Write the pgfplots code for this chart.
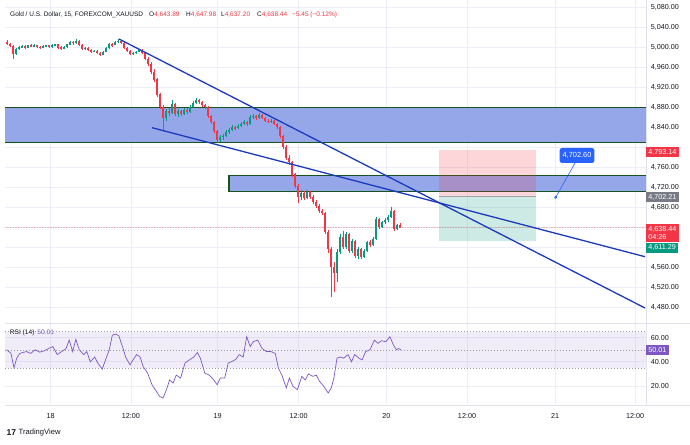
\documentclass[border=0pt]{standalone}
\usepackage{pgfplots}
\pgfplotsset{compat=1.18}
\usepackage{pgfplotstable}
\usepackage{fontspec}
\setmainfont{Liberation Sans}

\definecolor{tvred}{RGB}{242,54,69}
\definecolor{tvgreen}{RGB}{8,153,129}
\definecolor{zonefill}{RGB}{149,167,232}
\definecolor{zoneedge}{RGB}{22,84,28}
\definecolor{trend}{RGB}{28,58,190}
\definecolor{rsipurple}{RGB}{126,87,194}
\definecolor{tvgray}{RGB}{120,123,134}
\definecolor{tvblue}{RGB}{41,98,255}
\definecolor{gridc}{RGB}{236,239,247}
\definecolor{textc}{RGB}{19,23,34}
\definecolor{sepc}{RGB}{224,227,235}

\pgfplotstableread{
x o h l c
16 4986 4998 4984 4996
19 4996 5002 4994 5000
22 5000 5004 4997 5002
28 4999 5005 4998 5003
34 5001 5006 5000 5004
43 4998 5004 4997 5002
46 5002 5005 5000 5003
52 5000 5006 4999 5004
55 5004 5007 5002 5005
64 4996 5002 4995 5000
67 5000 5007 4999 5005
70 5005 5012 5004 5010
76 5008 5016 5007 5012
85 4996 5000 4994 4998
94 4990 4994 4989 4992
103 4984 4992 4983 4990
106 4990 5000 4989 4998
109 4998 5008 4997 5006
115 5004 5012 5003 5010
118 5010 5016 5008 5012
133 4986 4990 4984 4988
136 4988 4992 4986 4990
139 4990 4996 4989 4994
166 4858 4876 4852 4872
172 4868 4894 4866 4886
178 4866 4876 4860 4872
184 4866 4878 4864 4874
190 4870 4884 4868 4880
193 4880 4892 4878 4888
196 4888 4898 4886 4894
220 4814 4824 4810 4820
223 4820 4826 4814 4822
226 4822 4834 4820 4830
229 4830 4838 4826 4834
232 4834 4844 4832 4840
238 4838 4846 4836 4842
241 4842 4850 4840 4846
244 4846 4854 4844 4850
250 4846 4864 4845 4860
253 4860 4866 4856 4862
259 4858 4868 4856 4864
271 4850 4856 4848 4852
301 4700 4714 4694 4708
307 4698 4714 4696 4710
337 4548 4596 4530 4590
340 4590 4626 4586 4620
346 4600 4630 4596 4626
352 4592 4616 4588 4612
358 4582 4600 4576 4596
364 4580 4596 4578 4592
367 4592 4612 4590 4610
373 4604 4620 4602 4616
376 4616 4660 4614 4656
382 4640 4652 4638 4650
385 4650 4658 4646 4654
388 4654 4664 4650 4660
391 4660 4680 4658 4672
397 4636 4646 4634 4643.89
}\upcandles

\pgfplotstableread{
x o h l c
7 5010 5014 5004 5006
10 5006 5009 5000 5002
13 5002 5004 4976 4986
25 5002 5004 4996 4999
31 5003 5005 4999 5001
37 5004 5005 4998 5000
40 5000 5002 4996 4998
49 5003 5004 4998 5000
58 5005 5006 4997 4999
61 4999 5001 4994 4996
73 5010 5012 5005 5008
79 5012 5013 5002 5004
82 5004 5005 4994 4996
88 4998 4999 4992 4994
91 4994 4996 4988 4990
97 4992 4993 4986 4988
100 4988 4990 4982 4984
112 5006 5008 5001 5004
121 5012 5014 5006 5008
124 5008 5010 4996 4998
127 4998 5000 4990 4992
130 4992 4994 4984 4986
142 4994 4996 4986 4988
145 4988 4990 4974 4976
148 4976 4980 4962 4966
151 4966 4970 4946 4950
154 4950 4956 4930 4935
157 4935 4938 4900 4905
160 4905 4908 4875 4880
163 4880 4884 4834 4858
169 4872 4878 4862 4868
175 4886 4888 4862 4866
181 4872 4874 4862 4866
187 4874 4878 4866 4870
199 4894 4896 4886 4890
202 4890 4892 4880 4884
205 4884 4886 4876 4880
208 4880 4882 4858 4862
211 4862 4864 4846 4850
214 4850 4852 4828 4832
217 4832 4834 4808 4814
235 4840 4842 4834 4838
247 4850 4852 4842 4846
256 4862 4864 4854 4858
262 4864 4866 4856 4858
265 4858 4860 4850 4852
268 4852 4856 4848 4850
274 4852 4854 4844 4846
277 4846 4848 4836 4840
280 4840 4842 4818 4822
283 4822 4824 4796 4800
286 4800 4804 4774 4778
289 4778 4784 4764 4770
292 4770 4772 4740 4745
295 4745 4748 4718 4722
298 4722 4726 4688 4700
304 4708 4712 4694 4698
310 4710 4712 4696 4700
313 4700 4704 4686 4690
316 4690 4694 4678 4682
319 4682 4686 4668 4672
322 4672 4676 4664 4668
325 4668 4670 4626 4630
328 4630 4634 4588 4596
331 4596 4600 4500 4560
334 4560 4570 4510 4548
343 4620 4632 4596 4600
349 4626 4628 4588 4592
355 4612 4614 4578 4582
361 4596 4598 4576 4580
370 4610 4614 4600 4604
379 4656 4658 4636 4640
394 4672 4674 4632 4636
400 4643.89 4647.98 4637.20 4638.44
}\downcandles

\newcommand{\candleset}[2]{%
  \addplot[draw=none, no markers, forget plot, error bars/.cd, y dir=both, y explicit, error mark=none,
    error bar style={draw=#2, solid, line width=0.6pt}]
    table[x=x, y expr={(\thisrow{h}+\thisrow{l})/2}, y error expr={(\thisrow{h}-\thisrow{l})/2}] {#1};
  \addplot[draw=none, no markers, forget plot, error bars/.cd, y dir=both, y explicit, error mark=none,
    error bar style={draw=#2, solid, line width=1.8pt}]
    table[x=x, y expr={(\thisrow{o}+\thisrow{c})/2}, y error expr={abs(\thisrow{c}-\thisrow{o})/2+0.6}] {#1};
}

\pgfplotsset{tvaxis/.style={scale only axis, xmin=5, xmax=646,
  axis line style={draw=none}, major tick length=0pt, tick style={draw=none},
  xtick={50.7,130.9,217.7,298.7,386.4,467,555,635},
  grid=major, major grid style={draw=gridc, line width=0.8pt},
  tick label style={font=\fontsize{7.2}{8}\selectfont, text=textc},
  yticklabel pos=right,
  yticklabel style={anchor=west, xshift=4.7pt, inner sep=0pt,
    /pgf/number format/.cd, fixed, fixed zerofill, precision=2, 1000 sep={,}, assume math mode=true}}}

\begin{document}
\begin{tikzpicture}[x=1pt,y=1pt]
\path[use as bounding box, fill=white] (0,0) rectangle (690,444);

% ---------- main price pane ----------
\begin{axis}[tvaxis, at={(5pt,121pt)}, anchor=south west, width=641pt, height=323pt,
  ymin=4448, ymax=5094, ytick={4480,4520,4560,4680,4720,4760,4840,4880,4920,4960,5000,5040,5080},
  extra y ticks={4600,4640,4800}, extra y tick labels={},
  extra y tick style={grid=major},
  xticklabels={}]
  % zones
  \addplot[fill=zonefill, draw=zoneedge, line width=1.2pt, forget plot]
    coordinates {(-10,4809.4) (700,4809.4) (700,4879.4) (-10,4879.4)} -- cycle;
  \addplot[fill=zonefill, draw=zoneedge, line width=1.2pt, forget plot]
    coordinates {(229,4711.4) (700,4711.4) (700,4743.4) (229,4743.4)} -- cycle;
  % position box
  \addplot[fill=tvred, fill opacity=0.2, draw=none, forget plot]
    coordinates {(439,4702.21) (535.7,4702.21) (535.7,4793.14) (439,4793.14)} -- cycle;
  \addplot[fill=tvgreen, fill opacity=0.2, draw=none, forget plot]
    coordinates {(439,4611.29) (535.7,4611.29) (535.7,4702.21) (439,4702.21)} -- cycle;
  \addplot[tvgray!70, line width=0.6pt, forget plot] coordinates {(439,4702.21) (535.7,4702.21)};
  % current price line
  \addplot[tvred, opacity=0.35, line width=0.6pt, densely dotted, forget plot]
    coordinates {(5,4638.44) (646,4638.44)};
  % candles
  \candleset{\upcandles}{tvgreen}
  \candleset{\downcandles}{tvred}
  % trend lines
  \addplot[trend, line width=1.3pt, forget plot] coordinates {(119,5016) (645,4478)};
  \addplot[trend, line width=1.3pt, forget plot] coordinates {(152,4838.6) (645,4580.6)};
  % callout
  \addplot[tvblue, line width=0.6pt, forget plot] coordinates {(555.7,4699.4) (575,4768)};
  \addplot[only marks, mark=*, mark size=1.2pt, tvblue, forget plot] coordinates {(555.7,4699.4)};
  \coordinate (callout) at (axis cs:577,4783);
  \coordinate (b1) at (axis cs:646,4790);
  \coordinate (b2) at (axis cs:646,4699.4);
  \coordinate (b3) at (axis cs:646,4627.6);
  \coordinate (b4) at (axis cs:646,4598.4);
\end{axis}

% ---------- RSI pane ----------
\begin{axis}[tvaxis, at={(5pt,40pt)}, anchor=south west, width=641pt, height=80.7pt,
  ymin=5.1, ymax=71.9, ytick={20,40,60},
  xticklabels={18,12:00,19,12:00,20,12:00,21,12:00},
  xticklabel style={anchor=center, yshift=-12pt}]
  \addplot[fill=rsipurple, fill opacity=0.1, draw=none, forget plot]
    coordinates {(5,35) (646,35) (646,65) (5,65)} -- cycle;
  \addplot[tvgray!75, line width=0.5pt, dash pattern=on 1.2pt off 1.8pt, forget plot] coordinates {(5,65) (646,65)};
  \addplot[tvgray!75, line width=0.5pt, dash pattern=on 1.2pt off 1.8pt, forget plot] coordinates {(5,50) (646,50)};
  \addplot[tvgray!75, line width=0.5pt, dash pattern=on 1.2pt off 1.8pt, forget plot] coordinates {(5,35) (646,35)};
  \addplot[rsipurple, line width=0.7pt, forget plot] coordinates {
(6.6,50) (11,47) (14,35) (16.7,43) (19.8,47) (26.4,48.5) (30.8,47) (35.2,50) (39.6,48) (44,49)
(48.5,51) (52.9,52.6) (57.3,46) (61.7,48.5) (66.1,51) (69.2,58) (72.7,48.5) (75.8,58.6) (79.3,50)
(83.7,46) (86.8,48.5) (90.3,40) (94.7,44) (97.8,39) (102.2,34) (105.7,42) (109.3,50) (112.3,62)
(115.9,63) (118.9,61.4) (122.5,52.6) (125.6,44) (130,37.5) (133,41.6) (136.6,46) (140.1,44)
(143.2,36) (147.6,30.7) (152,21) (156.4,15.6) (159.5,11.5) (163,10) (166.5,17) (169.6,25)
(173.1,22.5) (176.2,29) (180.6,26.6) (185,39) (189.4,41.6) (193.8,44) (197.4,47.7) (200.4,43)
(204.8,30.7) (209.3,29) (213.7,25) (217.2,21) (220.3,26.6) (224.7,26.6) (228.2,39) (231.3,40)
(235.7,42) (239.2,46) (243.2,44) (246.7,60.8) (250.2,52.6) (253.3,56.7) (257.7,58) (262.1,51)
(266.5,48.5) (270.9,48.5) (275.3,47) (278.4,34.8) (281.9,29) (286.3,18.4) (289.4,26.6) (293,19.7)
(297.4,17) (301.8,28) (305.3,25) (308.4,30) (312.8,28) (316.3,29) (319.4,24) (323.8,19.7)
(328.2,14.2) (331.3,18.4) (333.9,26.6) (337,43) (340.1,44) (343.6,43) (348,46) (351.5,40)
(354.6,46) (359,43) (362.1,41.6) (365.6,48.5) (370,50) (374.4,58) (378,55.3) (381.5,57.5)
(385.9,56.7) (389.9,60.8) (393.4,54) (396.5,50) (398.7,51) (400.9,50.01)};
  \coordinate (rb) at (axis cs:646,50.01);
\end{axis}

% ---------- chrome ----------
\draw[sepc, line width=0.8pt] (646,39) -- (646,444);
\draw[sepc, line width=0.8pt] (5,121) -- (690,121);
\draw[sepc, line width=0.8pt] (5,39) -- (690,39);

% header
\begin{scope}[every node/.style={anchor=west, inner sep=0pt, font=\fontsize{6.5}{8}\selectfont}]
\node[text=textc] at (10,429) {Gold / U.S. Dollar, 15, FOREXCOM\_XAUUSD};
\node at (149,429) {\textcolor{textc}{O}\textcolor{tvred}{4,643.89}};
\node at (186,429) {\textcolor{textc}{H}\textcolor{tvred}{4,647.98}};
\node at (221,429) {\textcolor{textc}{L}\textcolor{tvred}{4,637.20}};
\node at (257,429) {\textcolor{textc}{C}\textcolor{tvred}{4,638.44}};
\node[text=tvred] at (292,429) {−5.45 (−0.12\%)};
\end{scope}

% price badges
\begin{scope}[every node/.style={anchor=west, inner xsep=2.2pt, inner ysep=0pt, minimum height=10pt, text=white, font=\fontsize{7.2}{8}\selectfont}]
\node[fill=tvred] at (b1) {4,793.14};
\node[fill=tvgray] at (b2) {4,702.21};
\node[fill=tvred, minimum height=18pt, align=left] at (b3) {4,638.44\\[-0.5pt]04:26};
\node[fill=tvgreen] at (b4) {4,611.29};
\node[fill=rsipurple] at (rb) {50.01};
\end{scope}
\node[fill=tvblue, rounded corners=2.5pt, text=white, inner xsep=3pt, inner ysep=0pt, minimum height=15pt,
  font=\fontsize{7.4}{8}\selectfont] at (callout) {4,702.60};

% RSI title
\node[anchor=west, inner sep=0pt, font=\fontsize{6.6}{8}\selectfont] at (9.7,111.5)
  {\textcolor{textc}{RSI (14)}\hspace{3pt}\textcolor{rsipurple}{50.01}};

% TradingView logo
\node[anchor=west, inner sep=0pt, font=\bfseries\fontsize{8.5}{9}\selectfont, text=textc] at (6.5,11) {17};
\node[anchor=west, inner sep=0pt, font=\fontsize{7.6}{9}\selectfont, text=textc] at (18.5,11) {TradingView};
\end{tikzpicture}
\end{document}
